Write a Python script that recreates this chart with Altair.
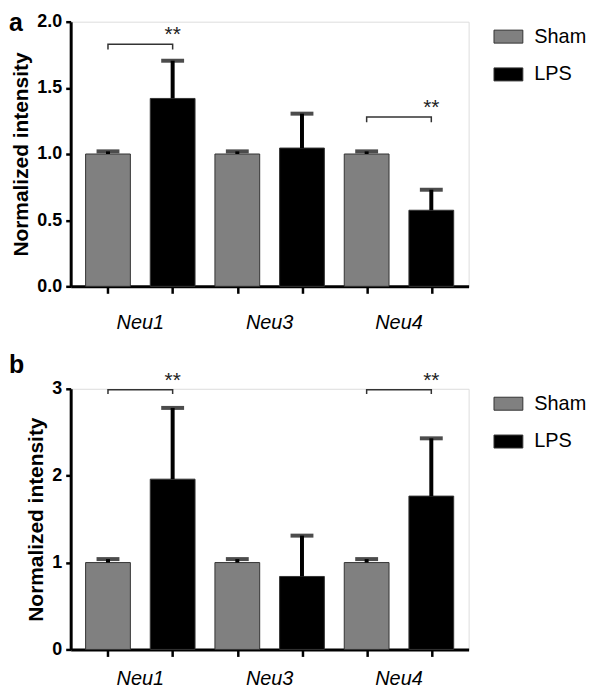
import altair as alt
import pandas as pd

genes = ["Neu1", "Neu3", "Neu4"]
groups = ["Sham", "LPS"]

a_sham_mean = [1.0, 1.0, 1.0]
a_sham_err = [0.02, 0.02, 0.02]
a_lps_mean = [1.42, 1.045, 0.575]
a_lps_err = [0.285, 0.26, 0.155]
a_sig_genes = ["Neu1", "Neu4"]
a_sig_y = [1.83, 1.28]

b_sham_mean = [1.0, 1.0, 1.0]
b_sham_err = [0.04, 0.04, 0.04]
b_lps_mean = [1.96, 0.84, 1.765]
b_lps_err = [0.82, 0.47, 0.665]
b_sig_genes = ["Neu1", "Neu4"]
b_sig_y = [2.99, 2.99]

colors = ["#808080", "#000000"]
FONT = "Liberation Sans"
W = 400
YTITLE = "Normalized intensity"


def panel(letter, sham_m, sham_e, lps_m, lps_e, sig_genes, sig_y,
          ymax, yvals, fmt, H, drop, letter_y, label_dy):
    rows = []
    for gi, g in enumerate(genes):
        for k, (grp, m, e) in enumerate([("Sham", sham_m[gi], sham_e[gi]),
                                         ("LPS", lps_m[gi], lps_e[gi])]):
            rows.append({"gene": g, "group": grp, "pos": gi * 2 + k + 0.5,
                         "mean": m, "upper": m + e})
    df = pd.DataFrame(rows)

    xs = alt.Scale(domain=[0, 6], nice=False, zero=False)
    ys = alt.Scale(domain=[0, ymax], nice=False, zero=True)
    xaxis = alt.Axis(values=[i + 0.5 for i in range(6)], labels=False, title=None,
                     grid=False, tickSize=7, tickWidth=2.5, tickColor="black",
                     domainColor="black", domainWidth=3)
    yaxis = alt.Axis(values=yvals, format=fmt, grid=False, tickSize=5, tickWidth=2.5,
                     tickColor="black", domainColor="black", domainWidth=3,
                     labelFont=FONT, labelFontSize=18, labelFontWeight="bold",
                     labelColor="black", labelPadding=4,
                     titleFont=FONT, titleFontSize=21, titleFontWeight="bold",
                     titleColor="black", titlePadding=5)

    X = alt.X("pos:Q", scale=xs, axis=xaxis)

    bars = alt.Chart(df).mark_bar(size=45, stroke="#333333", strokeWidth=1).encode(
        x=X,
        y=alt.Y("mean:Q", scale=ys, axis=yaxis, title=YTITLE),
        color=alt.Color("group:N", scale=alt.Scale(domain=groups, range=colors),
                        legend=alt.Legend(
                            title=None, orient="none", legendX=425, legendY=0,
                            symbolType="M-1,-0.45L1,-0.45L1,0.45L-1,0.45Z",
                            symbolSize=841, symbolStrokeColor="#333333",
                            symbolStrokeWidth=1, labelFont=FONT, labelFontSize=20,
                            labelColor="black", labelOffset=11, rowPadding=13,
                            padding=0)),
    )
    err = alt.Chart(df).mark_rule(strokeWidth=4, color="black").encode(
        x=X, y=alt.Y("mean:Q", title=YTITLE), y2="upper:Q")
    caps = alt.Chart(df).mark_tick(orient="horizontal", size=23, thickness=4,
                                   color="black").encode(
        x=X, y=alt.Y("upper:Q", title=YTITLE))

    brows, srows = [], []
    for bi, (g, yv) in enumerate(zip(sig_genes, sig_y)):
        gi = genes.index(g)
        p0, p1 = gi * 2 + 0.5, gi * 2 + 1.5
        pts = [(p0, yv - drop), (p0, yv), (p1, yv), (p1, yv - drop)]
        for o, (px, py) in enumerate(pts):
            brows.append({"bid": bi, "ord": o, "pos": px, "y": py})
        srows.append({"pos": p1, "y": yv, "t": "**"})
    brackets = alt.Chart(pd.DataFrame(brows)).mark_line(
        color="#333333", strokeWidth=1.5).encode(
        x=X, y=alt.Y("y:Q", title=YTITLE), detail="bid:N", order="ord:Q")
    stars = alt.Chart(pd.DataFrame(srows)).mark_text(
        font=FONT, fontSize=21, dy=-3, baseline="alphabetic", align="center",
        color="#222222").encode(x=X, y=alt.Y("y:Q", title=YTITLE), text="t:N")

    gdf = pd.DataFrame({"gene": genes, "pos": [gi * 2 + 1 for gi in range(len(genes))]})
    glabels = alt.Chart(gdf).mark_text(
        font=FONT, fontSize=20, fontStyle="italic", baseline="alphabetic",
        align="center", color="black").encode(
        x=X, y=alt.value(H + label_dy), text="gene:N")

    ldf = pd.DataFrame({"t": [letter]})
    lett = alt.Chart(ldf).mark_text(
        font=FONT, fontSize=25, fontWeight="bold", align="left",
        baseline="top", color="black").encode(
        x=alt.value(-62), y=alt.value(letter_y), text="t:N")

    return alt.layer(bars, err, caps, brackets, stars, glabels, lett).properties(
        width=W, height=H)


pa = panel("a", a_sham_mean, a_sham_err, a_lps_mean, a_lps_err, a_sig_genes, a_sig_y,
           2.0, [0, 0.5, 1.0, 1.5, 2.0], ".1f", 266, 0.04, -11, 43)
pb = panel("b", b_sham_mean, b_sham_err, b_lps_mean, b_lps_err, b_sig_genes, b_sig_y,
           3.0, [0, 1, 2, 3], "d", 262, 0.05, -36, 36)

chart = alt.vconcat(pa, pb, spacing=18).resolve_scale(
    color="independent", x="independent", y="independent"
).resolve_legend(color="independent").properties(padding=0).configure_view(
    stroke=None).configure(font=FONT)

chart.save("out.html", embed_options={"renderer": "svg", "actions": False})
